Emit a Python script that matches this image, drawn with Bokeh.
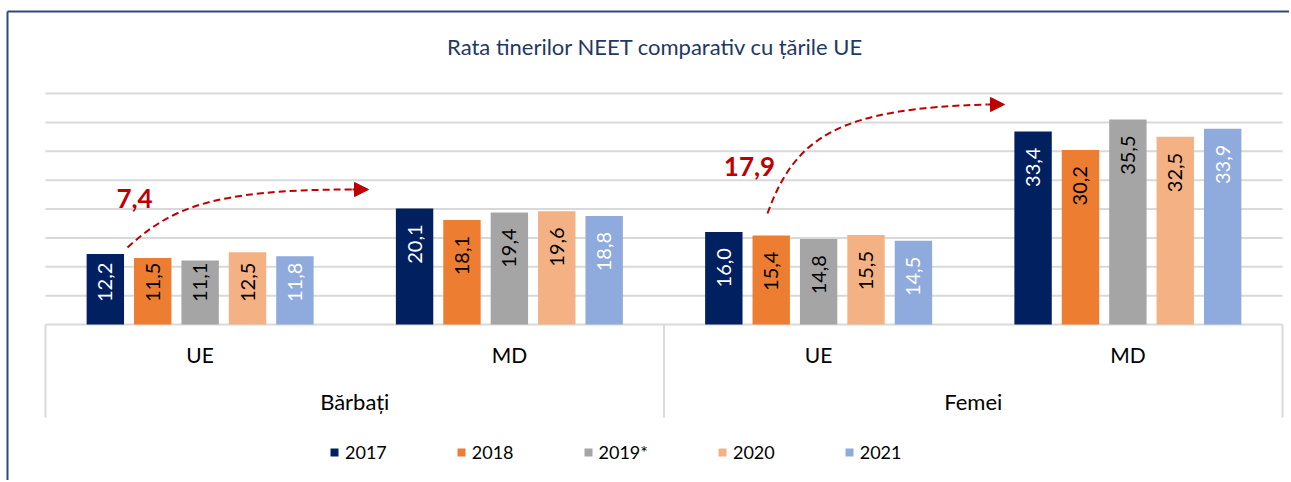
import math
from bokeh.plotting import figure
from bokeh.models import (Range1d, ColumnDataSource, Legend, LegendItem, Arrow,
                          NormalHead)
from bokeh.core.properties import value
from bokeh.embed import file_html
from bokeh.resources import INLINE

# ---------------- data ----------------
genders = ["Bărbați", "Femei"]
regions = ["UE", "MD"]
years = ["2017", "2018", "2019*", "2020", "2021"]
# values in order: Bărbați-UE, Bărbați-MD, Femei-UE, Femei-MD
v2017 = [12.2, 20.1, 16.0, 33.4]
v2018 = [11.5, 18.1, 15.4, 30.2]
v2019 = [11.1, 19.4, 14.8, 35.5]
v2020 = [12.5, 19.6, 15.5, 32.5]
v2021 = [11.8, 18.8, 14.5, 33.9]
series = [v2017, v2018, v2019, v2020, v2021]
gap_labels = ["7,4", "17,9"]
title_text = "Rata tinerilor NEET comparativ cu țările UE"
y_ticks = [0, 5, 10, 15, 20, 25, 30, 35, 40]

# ---------------- styles ----------------
colors = ["#002060", "#ED7D31", "#A5A5A5", "#F4B183", "#8FAADC"]
label_colors = ["#FFFFFF", "#000000", "#000000", "#000000", "#FFFFFF"]
FONT = "Lato"
GRID = "#D9D9D9"
RED = "#C00000"
BORDER = "#2F4A7A"
TXT_SHIFT = 9  # px correction for alphabetic baseline rendering

W, H = 1289, 480
# page-pixel geometry of the plotting area
PX_L, PX_R = 45.0, 1282.0     # x = 0 .. 4
PY0, PY40 = 324.0, 93.0       # y = 0 .. 40

sx = (PX_R - PX_L) / 4.0
sy = (PY0 - PY40) / 40.0
def dx(px):
    return (px - PX_L) / sx
def dy(py):
    return (PY0 - py) / sy
def ty(py):
    return dy(py - TXT_SHIFT)

p = figure(width=W, height=H, output_backend="svg", toolbar_location=None,
           x_range=Range1d(dx(0), dx(W)), y_range=Range1d(dy(H), dy(0)),
           x_axis_location=None, y_axis_location=None,
           min_border_left=0, min_border_right=0,
           min_border_top=0, min_border_bottom=0)
p.xgrid.visible = False
p.ygrid.visible = False
p.outline_line_color = None
p.background_fill_color = "white"
p.border_fill_color = "white"

# chart box border (left and top)
p.segment(x0=[dx(7), dx(7)], x1=[dx(7), dx(W + 5)], y0=[dy(11), dy(11)],
          y1=[dy(H + 5), dy(11)], line_color=BORDER, line_width=2)

# gridlines
p.segment(x0=[0] * len(y_ticks), x1=[4] * len(y_ticks), y0=y_ticks, y1=y_ticks,
          line_color=GRID, line_width=2)

# category box
box_bottom = dy(417)
p.segment(x0=[0, 2, 4], x1=[0, 2, 4], y0=[0, 0, 0], y1=[box_bottom] * 3,
          line_color=GRID, line_width=2)

n_groups = len(genders) * len(regions)
centers = [i + 0.5 for i in range(n_groups)]
step = 47.4 / sx
bw = 37.4 / sx

renderers = []
for k, (yr, vals) in enumerate(zip(years, series)):
    xs = [c + (k - 2) * step for c in centers]
    src = ColumnDataSource(dict(x=xs, top=vals,
                                lbl=[("%.1f" % v).replace(".", ",") for v in vals],
                                ly=[max(v - 16 / sy, 10.7) for v in vals]))
    r = p.vbar(x="x", top="top", bottom=0, width=bw, source=src,
               fill_color=colors[k], line_color=None)
    renderers.append(r)
    p.text(x="x", y="ly", text="lbl", source=src, angle=math.pi / 2,
           text_align="right", text_baseline="middle",
           text_font=value(FONT), text_font_size="20px",
           text_color=label_colors[k])

# category labels
reg_x = centers
reg_t = regions * len(genders)
p.text(x=reg_x, y=[ty(363)] * len(reg_x), text=reg_t, text_align="center",
       text_baseline="alphabetic", text_font=value(FONT), text_font_size="21px",
       text_color="#000000")
p.text(x=[1, 3], y=[ty(410)] * 2, text=genders, text_align="center",
       text_baseline="alphabetic", text_font=value(FONT), text_font_size="22px",
       text_color="#000000")

# title
p.text(x=[dx(655)], y=[ty(55)], text=[title_text],
       text_align="center", text_baseline="alphabetic", text_font=value(FONT),
       text_font_size="22px", text_color="#1F3864")

# gap annotations with curved dashed arrows
ann = [
    dict(lbl=gap_labels[0], tx=134, ty=207,
         p0=(127, 247), p1=(170, 208), p2=(210, 189), p3=(352, 189), tip=(368, 189)),
    dict(lbl=gap_labels[1], tx=749, ty=175,
         p0=(767, 213), p1=(795, 135), p2=(840, 108), p3=(987, 104), tip=(1004, 104)),
]
for a in ann:
    p.bezier(x0=[dx(a["p0"][0])], y0=[dy(a["p0"][1])],
             x1=[dx(a["p3"][0])], y1=[dy(a["p3"][1])],
             cx0=[dx(a["p1"][0])], cy0=[dy(a["p1"][1])],
             cx1=[dx(a["p2"][0])], cy1=[dy(a["p2"][1])],
             line_color=RED, line_width=2, line_dash="7 4")
    p.add_layout(Arrow(x_start=dx(a["p3"][0]), y_start=dy(a["p3"][1]),
                       x_end=dx(a["tip"][0]), y_end=dy(a["tip"][1]),
                       line_color=RED, line_width=2,
                       end=NormalHead(size=14, fill_color=RED, line_color=RED)))
    p.text(x=[dx(a["tx"])], y=[ty(a["ty"])], text=[a["lbl"]], text_align="center",
           text_baseline="alphabetic", text_font=value(FONT), text_font_style="bold",
           text_font_size="26px", text_color=RED)

# legend
items = [LegendItem(label=yr, renderers=[r]) for yr, r in zip(years, renderers)]
legend = Legend(items=items, orientation="horizontal",
                location=(329, H - 463),
                glyph_width=10, glyph_height=10, label_standoff=6, spacing=69,
                label_text_font=FONT, label_text_font_size="18px",
                label_text_color="#000000", label_height=22,
                padding=0, margin=0, border_line_color=None,
                background_fill_alpha=0)
p.add_layout(legend, "center")

open("out.html", "w").write(file_html(p, INLINE))
